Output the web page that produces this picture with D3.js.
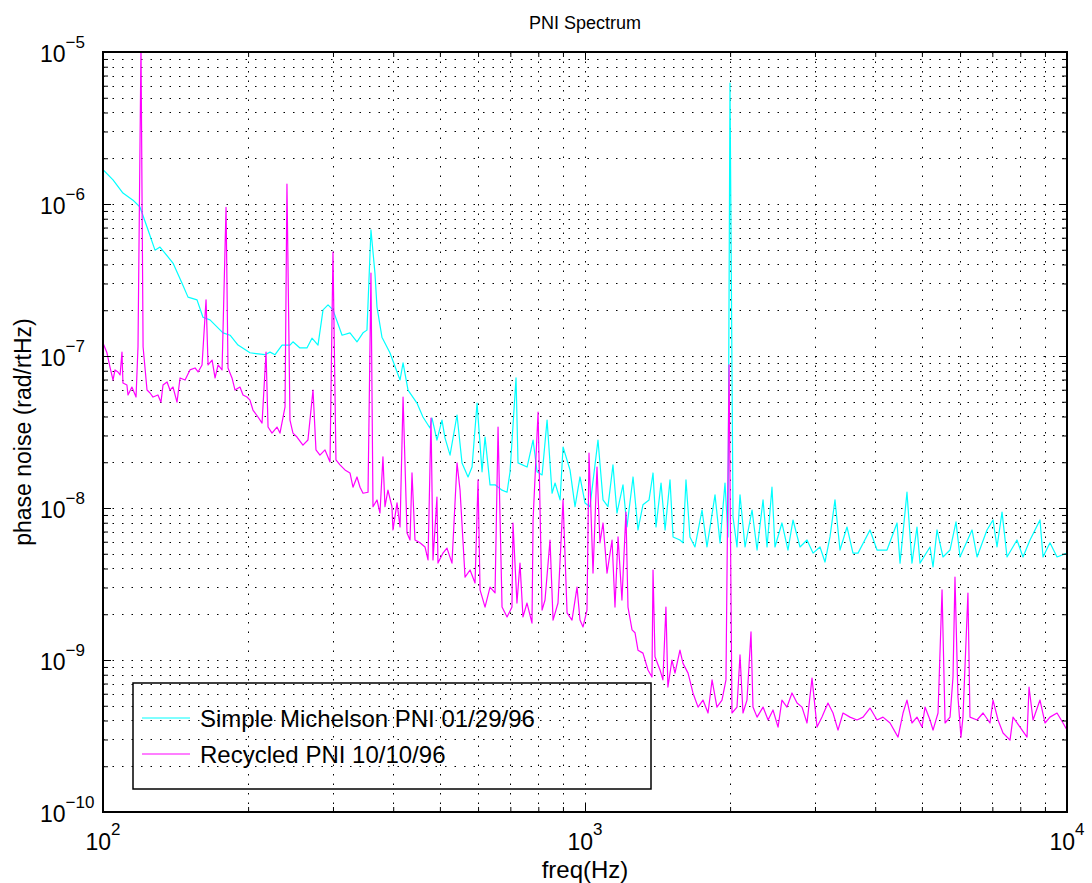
<!DOCTYPE html>
<meta charset="utf-8">
<script src="https://d3js.org/d3.v7.min.js"></script>
<style>
    body { margin: 0; background: #fff; }
    svg { font-family: "Liberation Sans", Arial, Helvetica, sans-serif; }
    .grid line { stroke: #000; stroke-width: 1; stroke-dasharray: 1.5,8; }
    .axis path { display: none; }
    .axis line { stroke: #000; stroke-width: 1; }
</style>
<svg width="1092" height="883"></svg>
<script>
    // tick labels (base 10, exponent shown as superscript)
    var xDecades = [100, 1000, 10000];
    var xExponents = ["2", "3", "4"];
    var yDecades = [1e-10, 1e-9, 1e-8, 1e-7, 1e-6, 1e-5];
    var yExponents = ["\u221210", "\u22129", "\u22128", "\u22127", "\u22126", "\u22125"];
    var seriesNames = ["Simple Michelson PNI 01/29/96", "Recycled PNI 10/10/96"];
    var seriesColors = ["#00ffff", "#ff00ff"];

    // [freq (Hz), phase noise (rad/rtHz)]
    var michelsonPNI = [
        [100,1.68e-6],[104.9,1.44e-6],[110,1.18e-6],[115.4,1.06e-6],[119.3,9.56e-7],[123.4,7.06e-7],[128.2,4.97e-7],
        [131.3,5.21e-7],[139.7,4.09e-7],[145.8,3.02e-7],[150.1,2.44e-7],[156.7,2.34e-7],[161.2,1.80e-7],[166.7,1.73e-7],
        [177.4,1.42e-7],[183.5,1.37e-7],[190.6,1.18e-7],[201.8,1.05e-7],[216.8,1.02e-7],[222.1,1.06e-7],[227.5,1.02e-7],
        [235.2,1.18e-7],[244.3,1.18e-7],[247.8,1.24e-7],[256.2,1.13e-7],[264.9,1.13e-7],[271.4,1.31e-7],[279.3,1.18e-7],
        [286.1,2.01e-7],[293,2.17e-7],[300,2.01e-7],[313.3,1.37e-7],[325.4,1.42e-7],[336.5,1.24e-7],[346.3,1.42e-7],
        [352.9,1.48e-7],[359.7,6.75e-7],[366.6,3.51e-7],[370.2,2.10e-7],[379.1,1.33e-7],[393.8,1.05e-7],[413.3,6.95e-8],
        [419.3,9.0e-8],[429.4,5.97e-8],[448.1,4.90e-8],[461.1,3.97e-8],[476.8,3.36e-8],[481.4,3.91e-8],[493,2.80e-8],
        [505,3.79e-8],[512.3,2.89e-8],[524.8,2.23e-8],[542.6,4.09e-8],[555.7,1.98e-8],[571.9,1.60e-8],[583,1.86e-8],
        [597.1,4.90e-8],[611.5,1.73e-8],[620.3,2.93e-8],[635.3,1.42e-8],[650.7,1.42e-8],[672.8,1.31e-8],[689.1,1.27e-8],
        [699,1.73e-8],[719.3,7.17e-8],[726.2,1.98e-8],[758.3,1.86e-8],[780.3,2.80e-8],[795.4,1.73e-8],[814.6,1.65e-8],
        [834.3,3.79e-8],[854.4,1.25e-8],[866.8,1.46e-8],[887.7,1.13e-8],[900.5,2.52e-8],[930.9,1.78e-8],[953.4,1.02e-8],
        [976.4,1.60e-8],[1000,1.08e-8],[1024,1.02e-8],[1064,2.80e-8],[1090,1.13e-8],[1116,1.02e-8],[1143,1.92e-8],
        [1165,9.26e-9],[1199,1.42e-8],[1222,7.5e-9],[1258,1.60e-8],[1288,7.17e-9],[1319,1.05e-8],[1358,1.13e-8],
        [1384,1.70e-8],[1404,7.5e-9],[1438,1.46e-8],[1466,7.17e-9],[1501,1.53e-8],[1523,6.45e-9],[1574,6.16e-9],
        [1597,5.9e-9],[1620,1.53e-8],[1651,6.45e-9],[1691,5.54e-9],[1749,9.70e-9],[1791,5.54e-9],[1861,1.22e-8],
        [1906,5.9e-9],[1952,1.46e-8],[1980,6.45e-9],[1999,6.25e-6],[2028,8.73e-9],[2067,5.54e-9],[2097,1.22e-8],
        [2148,5.54e-9],[2221,9.70e-9],[2275,5.29e-9],[2341,1.13e-8],[2386,5.54e-9],[2443,1.37e-8],[2478,5.54e-9],
        [2562,7.97e-9],[2637,5.29e-9],[2701,8.34e-9],[2793,5.54e-9],[2888,6.16e-9],[2972,5.05e-9],[3073,5.54e-9],
        [3147,4.41e-9],[3223,6.45e-9],[3301,1.13e-8],[3381,5.29e-9],[3496,7.5e-9],[3597,5.05e-9],[3685,5.05e-9],
        [3902,7.17e-9],[4035,5.29e-9],[4232,5.29e-9],[4440,7.97e-9],[4504,4.34e-9],[4656,1.27e-8],[4768,4.34e-9],
        [4884,7.5e-9],[4955,4.34e-9],[5198,5.54e-9],[5273,4.09e-9],[5374,7.17e-9],[5530,4.76e-9],[5719,5.29e-9],
        [5885,8.10e-9],[5998,4.76e-9],[6353,7.17e-9],[6507,4.76e-9],[6823,7.17e-9],[7023,8.34e-9],[7158,5.54e-9],
        [7332,9.4e-9],[7509,4.76e-9],[7874,6.16e-9],[8104,4.76e-9],[8380,6.16e-9],[8790,8.34e-9],[8917,4.76e-9],
        [9219,5.9e-9],[9535,4.76e-9],[10000,5.05e-9]
    ];

    var recycledPNI = [
        [100,1.22e-7],[101.9,1.05e-7],[103.4,8.46e-8],[104.9,6.95e-8],[105.9,8.10e-8],[107.4,7.85e-8],[108.5,7.5e-8],
        [109.5,1.06e-7],[110,6.64e-8],[112.1,6.45e-8],[112.7,5.54e-8],[114.8,6.25e-8],[117.1,5.37e-8],[118.2,1.15e-7],
        [119.9,1.1e-5],[121.1,1.15e-7],[123.4,5.97e-8],[125.2,5.71e-8],[127,5.37e-8],[130,5.54e-8],[131.9,4.97e-8],
        [133.2,6.45e-8],[135.8,6.75e-8],[137.7,5.97e-8],[139.7,6.25e-8],[142.4,4.97e-8],[144.5,7.17e-8],[148,6.95e-8],
        [151.5,8.10e-8],[155.2,8.34e-8],[157.5,7.85e-8],[160.5,8.73e-8],[163.6,2.34e-7],[165.2,8.73e-8],[168.4,9.4e-8],
        [170.8,7.17e-8],[173.3,8.73e-8],[176.6,8.10e-8],[180,9.5e-7],[181.7,8.34e-8],[185.2,7.17e-8],[187.9,5.97e-8],
        [192.4,6.25e-8],[195.2,5.54e-8],[198.9,5.37e-8],[201.8,5.13e-8],[204.7,4.41e-8],[209.7,3.97e-8],[213.8,3.62e-8],
        [217.9,1.06e-7],[220,3.41e-8],[224.2,3.11e-8],[229.6,3.41e-8],[232.9,3.11e-8],[238.6,4.62e-8],[240.8,1.35e-6],
        [244.3,3.79e-8],[247.8,3.11e-8],[252.6,2.93e-8],[259.9,2.59e-8],[266.2,2.80e-8],[272.7,5.97e-8],[276.6,2.41e-8],
        [281.9,2.23e-8],[288.8,2.41e-8],[295.8,2.01e-8],[300,4.83e-7],[304.3,2.07e-8],[310.2,1.92e-8],[317.7,1.78e-8],
        [325.4,1.70e-8],[330.1,1.37e-8],[336.5,1.60e-8],[341.4,1.37e-8],[346.3,1.25e-8],[354.7,1.27e-8],[359.7,3.51e-7],
        [363.2,1.02e-8],[370.2,1.13e-8],[375.5,9.26e-9],[380.9,2.17e-8],[384.6,1.02e-8],[390.1,1.31e-8],[397.6,1.02e-8],
        [399.6,7.17e-9],[407.4,1.08e-8],[413.3,7.5e-9],[419.3,5.37e-8],[427.3,6.85e-9],[433.5,6.16e-9],[437.6,1.70e-8],
        [443.9,6.16e-9],[454.6,5.9e-9],[465.6,5.54e-9],[472.4,4.55e-9],[479.2,3.91e-8],[483.8,4.55e-9],[493,1.18e-8],
        [495.4,4.34e-9],[507.4,5.05e-9],[517.2,5.45e-9],[529.7,4.34e-9],[542.6,1.98e-8],[550.5,1.31e-8],[563.8,3.51e-9],
        [577.5,3.91e-9],[591.4,3.21e-9],[599.9,1.53e-8],[605.7,2.89e-9],[620.3,2.23e-9],[635.3,3.02e-9],[650.7,2.76e-9],
        [660.1,3.41e-8],[672.8,2.23e-9],[689.1,1.92e-9],[705.5,2.23e-9],[708.9,7.97e-9],[722.5,2.37e-9],[733,4.34e-9],
        [743.6,1.92e-9],[758,2.37e-9],[776.3,1.75e-9],[780.3,8.34e-9],[799.2,4.28e-8],[814.6,2.13e-9],[826.1,2.48e-9],
        [846.1,6.16e-9],[858.5,1.83e-9],[879,2.37e-9],[900.5,1.13e-8],[917.9,2.04e-9],[939.8,1.83e-9],[962.6,3.02e-9],
        [976.4,1.83e-9],[990.6,1.65e-9],[1009.6,2.13e-9],[1019.3,2.30e-8],[1039,3.73e-9],[1059,1.86e-8],[1074,5.9e-9],
        [1090,7.97e-9],[1111,3.73e-9],[1138,6.16e-9],[1154,2.23e-9],[1171,6.45e-9],[1193,2.48e-9],[1216,9.4e-9],
        [1228,2.23e-9],[1252,1.58e-9],[1270,1.51e-9],[1288,1.16e-9],[1319,1.11e-9],[1351,8.6e-10],[1377,7.73e-10],
        [1384,3.91e-9],[1397,1.05e-9],[1431,8.6e-10],[1451,7.4e-10],[1472,2.23e-9],[1486,6.64e-10],[1515,1.0e-9],
        [1537,8.2e-10],[1574,1.16e-9],[1597,9.5e-10],[1636,8.2e-10],[1675,6.07e-10],[1716,4.90e-10],[1757,5.45e-10],
        [1800,4.48e-10],[1835,7.4e-10],[1878,4.90e-10],[1924,5.45e-10],[1961,7.4e-10],[1990,8.73e-8],[2018,4.48e-10],
        [2067,4.90e-10],[2097,1.08e-9],[2127,4.48e-10],[2168,5.45e-10],[2210,1.53e-9],[2231,4.90e-10],[2275,4.21e-10],
        [2341,4.90e-10],[2398,4.03e-10],[2455,4.69e-10],[2515,3.62e-10],[2562,5.45e-10],[2624,4.90e-10],[2688,6.07e-10],
        [2754,5.21e-10],[2820,4.90e-10],[2888,3.85e-10],[2958,7.6e-10],[3030,3.62e-10],[3102,4.21e-10],[3192,5.21e-10],
        [3270,4.48e-10],[3349,3.46e-10],[3430,4.48e-10],[3546,4.21e-10],[3667,4.03e-10],[3775,4.21e-10],[3902,4.83e-10],
        [4035,4.03e-10],[4152,4.21e-10],[4294,3.85e-10],[4461,3.11e-10],[4569,4.48e-10],[4656,5.45e-10],[4768,3.85e-10],
        [4884,4.21e-10],[5003,3.62e-10],[5075,4.90e-10],[5198,4.03e-10],[5273,3.46e-10],[5400,4.48e-10],[5505,2.89e-9],
        [5585,3.85e-10],[5719,4.21e-10],[5801,7.73e-10],[5856,3.51e-9],[5940,5.71e-10],[6026,3.11e-10],[6084,4.21e-10],
        [6230,2.76e-9],[6291,4.21e-10],[6507,4.03e-10],[6697,4.48e-10],[6922,3.85e-10],[7023,5.45e-10],[7193,4.03e-10],
        [7367,3.31e-10],[7617,2.97e-10],[7727,4.21e-10],[7990,3.62e-10],[8261,3.11e-10],[8341,6.64e-10],[8502,4.03e-10],
        [8790,5.45e-10],[9004,3.85e-10],[9219,4.21e-10],[9535,4.48e-10],[9811,3.85e-10],[10000,3.46e-10]
    ];

    var svg = d3.select("svg"),
        margin = {top: 52, right: 25, bottom: 71, left: 103},
        width = +svg.attr("width") - margin.left - margin.right,
        height = +svg.attr("height") - margin.top - margin.bottom;

    var x = d3.scaleLog().domain([100, 10000]).range([0, width]);
    var y = d3.scaleLog().domain([1e-10, 1e-5]).range([height, 0]);

    var xAll = x.ticks(), yAll = y.ticks();
    var isMajor = function(d) { return Math.abs(Math.log10(d) - Math.round(Math.log10(d))) < 1e-6; };

    var g = svg.append("g").attr("transform", "translate(" + margin.left + "," + margin.top + ")");

    g.append("clipPath").attr("id", "plotclip")
        .append("rect").attr("width", width).attr("height", height);

    // dotted grid at every tick
    var grid = g.append("g").attr("class", "grid");
    grid.selectAll(".gx").data(xAll).enter().append("line")
        .attr("x1", function(d) { return Math.round(x(d)) + 0.5; })
        .attr("x2", function(d) { return Math.round(x(d)) + 0.5; })
        .attr("y1", 0).attr("y2", height);
    grid.selectAll(".gy").data(yAll).enter().append("line")
        .attr("y1", function(d) { return Math.round(y(d)) + 0.5; })
        .attr("y2", function(d) { return Math.round(y(d)) + 0.5; })
        .attr("x1", 0).attr("x2", width);

    // data lines
    var line = d3.line()
        .x(function(d) { return x(d[0]); })
        .y(function(d) { return y(d[1]); });

    var plot = g.append("g").attr("clip-path", "url(#plotclip)");
    [michelsonPNI, recycledPNI].forEach(function(s, i) {
        plot.append("path")
            .datum(s)
            .attr("fill", "none")
            .attr("stroke", seriesColors[i])
            .attr("stroke-width", 1.2)
            .attr("stroke-linejoin", "round")
            .attr("d", line);
    });

    // inward ticks on all four sides
    function tickLen(d) { return isMajor(d) ? 8 : 5; }
    g.append("g").attr("class", "axis").attr("transform", "translate(0," + height + ")")
        .call(d3.axisBottom(x).tickValues(xAll).tickFormat("").tickSizeOuter(0))
        .selectAll(".tick line").attr("y2", function(d) { return -tickLen(d); });
    g.append("g").attr("class", "axis")
        .call(d3.axisTop(x).tickValues(xAll).tickFormat("").tickSizeOuter(0))
        .selectAll(".tick line").attr("y2", function(d) { return tickLen(d); });
    g.append("g").attr("class", "axis")
        .call(d3.axisLeft(y).tickValues(yAll).tickFormat("").tickSizeOuter(0))
        .selectAll(".tick line").attr("x2", function(d) { return tickLen(d); });
    g.append("g").attr("class", "axis").attr("transform", "translate(" + width + ",0)")
        .call(d3.axisRight(y).tickValues(yAll).tickFormat("").tickSizeOuter(0))
        .selectAll(".tick line").attr("x2", function(d) { return -tickLen(d); });

    // frame
    g.append("rect")
        .attr("width", width).attr("height", height)
        .attr("fill", "none").attr("stroke", "#000").attr("stroke-width", 2);

    // x tick labels
    var xl = g.selectAll(".xlab").data(xDecades).enter().append("text")
        .attr("x", function(d) { return x(d); })
        .attr("y", height + 38)
        .attr("text-anchor", "middle")
        .attr("font-size", "23px");
    xl.append("tspan").text("10");
    xl.append("tspan").attr("dy", -15).attr("font-size", "17px")
        .text(function(d, i) { return xExponents[i]; });

    // y tick labels
    var yl = g.selectAll(".ylab").data(yDecades).enter().append("text")
        .attr("x", -63)
        .attr("y", function(d) { return y(d) + 10; })
        .attr("text-anchor", "start")
        .attr("font-size", "23px");
    yl.append("tspan").text("10");
    yl.append("tspan").attr("dy", -14).attr("font-size", "17px")
        .text(function(d, i) { return yExponents[i]; });

    // title and axis labels
    svg.append("text")
        .attr("x", margin.left + width / 2).attr("y", 29)
        .attr("text-anchor", "middle").attr("font-size", "18px")
        .text("PNI Spectrum");
    svg.append("text")
        .attr("x", margin.left + width / 2).attr("y", 878)
        .attr("text-anchor", "middle").attr("font-size", "24px")
        .text("freq(Hz)");
    svg.append("text")
        .attr("transform", "translate(31," + (margin.top + height / 2) + ") rotate(-90)")
        .attr("text-anchor", "middle").attr("font-size", "23px")
        .text("phase noise (rad/rtHz)");

    // legend
    var lg = g.append("g").attr("transform", "translate(30,631)");
    lg.append("rect")
        .attr("width", 518).attr("height", 106)
        .attr("fill", "none").attr("stroke", "#000").attr("stroke-width", 1.5);
    seriesNames.forEach(function(name, i) {
        lg.append("line")
            .attr("x1", 9).attr("x2", 57)
            .attr("y1", 35 + i * 36).attr("y2", 35 + i * 36)
            .attr("stroke", seriesColors[i]).attr("stroke-width", 1.2);
        lg.append("text")
            .attr("x", 67).attr("y", 44 + i * 36)
            .attr("font-size", "24px")
            .text(name);
    });
</script>
